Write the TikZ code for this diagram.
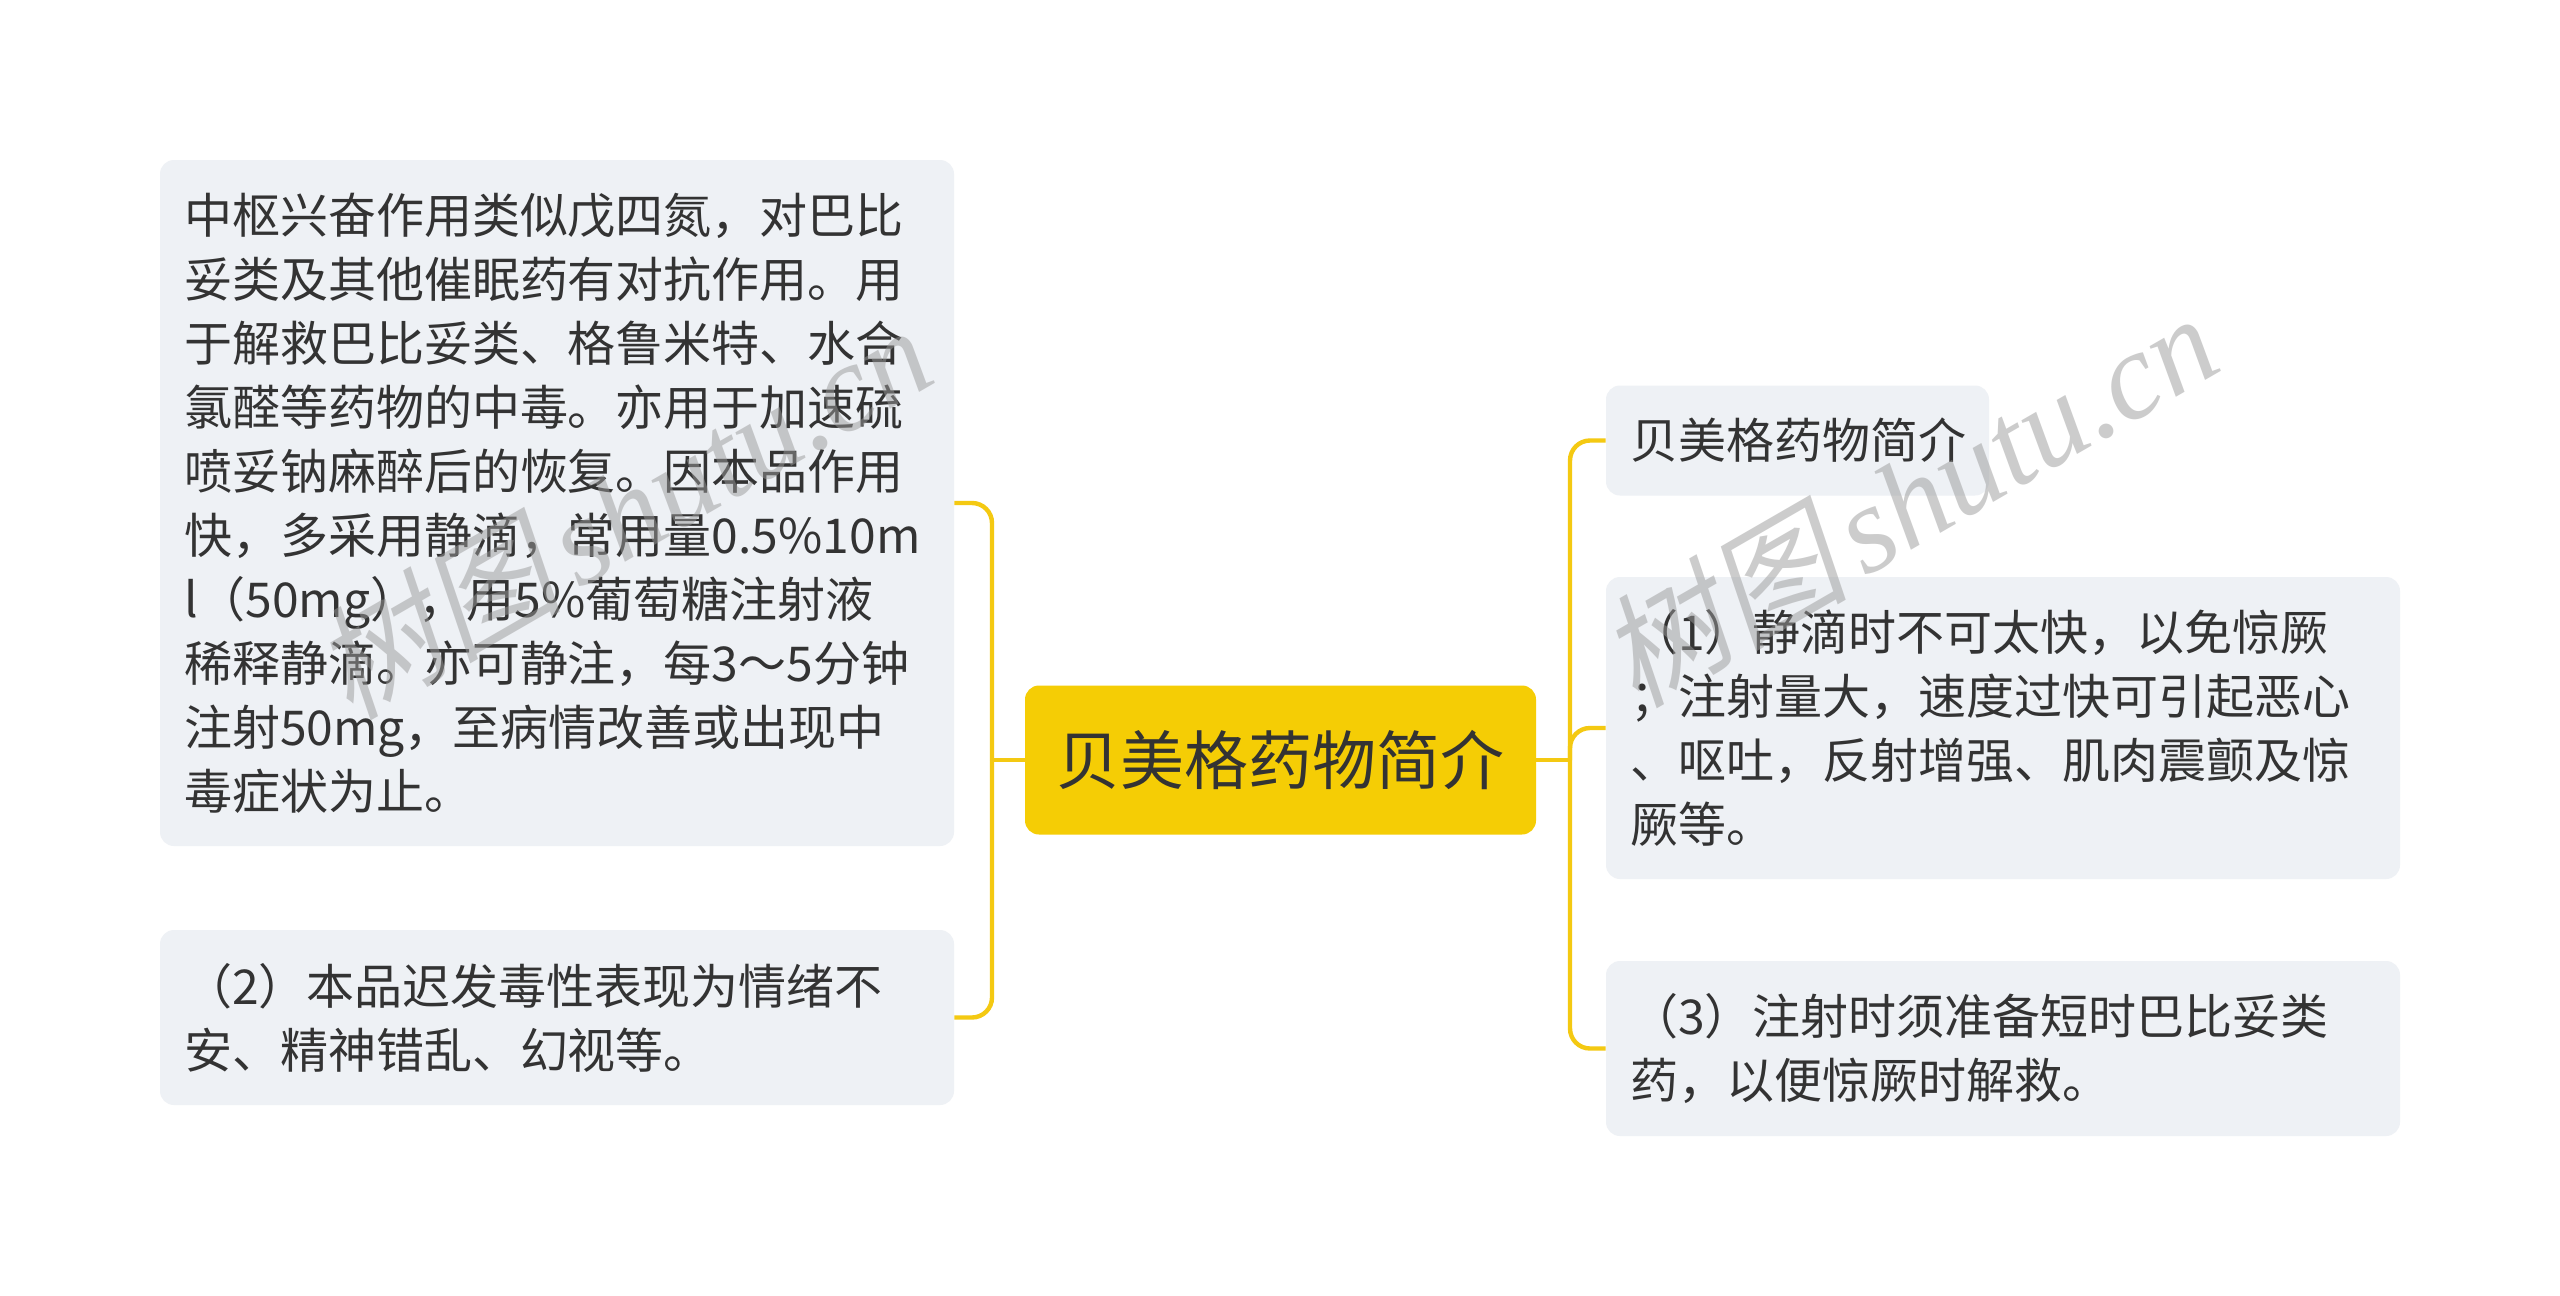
\documentclass[tikz,border=0pt]{standalone}
\usepackage{fontspec}
\setmainfont{Noto Sans CJK SC}
\newfontfamily\wmserif{Liberation Serif Italic}
\newfontfamily\wmcjk[FakeSlant=0.2]{Noto Sans CJK SC}
\definecolor{linec}{HTML}{F4C912}
\definecolor{boxc}{HTML}{EEF1F5}
\definecolor{rootc}{HTML}{F5CD05}
\definecolor{txtc}{HTML}{333333}
\definecolor{wmc}{HTML}{9A9A9A}
\begin{document}
\begin{tikzpicture}[x=0.5pt,y=-0.5pt,
  leaf/.style={rounded corners=7pt, fill=boxc, text=txtc,
    font=\fontsize{24pt}{32pt}\selectfont, inner xsep=12pt, inner ysep=0pt, align=left},
  rootbox/.style={rounded corners=7pt, fill=rootc, text=txtc,
    font=\fontsize{32pt}{40pt}\selectfont, inner sep=0pt, align=center},
  conn/.style={draw=linec, line width=2.2pt, rounded corners=10pt},
  wm/.style={text=wmc, text opacity=0.5, rotate=30, inner sep=0pt,
    font=\fontsize{62pt}{70pt}\selectfont}
]
\fill[white] (0,0) rectangle (2560,1296);
\useasboundingbox (0,0) rectangle (2560,1296);

\coordinate (jl) at (992,760);
\coordinate (jr) at (1570,760);

\node[rootbox, minimum width=255.5pt, minimum height=74.5pt] (C) at (1280.5,760) {贝美格药物简介};

\node[leaf, text width=373pt, minimum height=343pt] (L1) at (557,503) {中枢兴奋作用类似戊四氮，对巴比\\
妥类及其他催眠药有对抗作用。用\\
于解救巴比妥类、格鲁米特、水合\\
氯醛等药物的中毒。亦用于加速硫\\
喷妥钠麻醉后的恢复。因本品作用\\
快，多采用静滴，常用量0.5\%10m\\
l（50mg），用5\%葡萄糖注射液\\
稀释静滴。亦可静注，每3～5分钟\\
注射50mg，至病情改善或出现中\\
毒症状为止。};

\node[leaf, text width=373pt, minimum height=87.5pt] (L2) at (557,1017.5) {（2）本品迟发毒性表现为情绪不\\
安、精神错乱、幻视等。};

\node[leaf, text width=167.5pt, minimum height=55pt] (R1) at (1797.5,440.5) {贝美格药物简介};

\node[leaf, text width=373pt, minimum height=151pt] (R2) at (2003,728) {（1）静滴时不可太快，以免惊厥\\
；注射量大，速度过快可引起恶心\\
、呕吐，反射增强、肌肉震颤及惊\\
厥等。};

\node[leaf, text width=373pt, minimum height=87.5pt] (R3) at (2003,1048.5) {（3）注射时须准备短时巴比妥类\\
药，以便惊厥时解救。};

\draw[conn] (C.west) -- (jl);
\draw[conn] (L1.east) -| (jl);
\draw[conn] (L2.east) -| (jl);
\draw[conn] (C.east) -- (jr);
\draw[conn] (R1.west) -| (jr);
\draw[conn] (R2.west) -| (jr);
\draw[conn] (R3.west) -| (jr);

% watermarks
\node[wm] (wm1) at (622,510) {{\wmcjk 树图}\hspace{8pt}{\wmserif shutu.cn}};
\node[wm] (wm2) at (1908,498) {{\wmcjk 树图}\hspace{8pt}{\wmserif shutu.cn}};
\end{tikzpicture}
\end{document}
